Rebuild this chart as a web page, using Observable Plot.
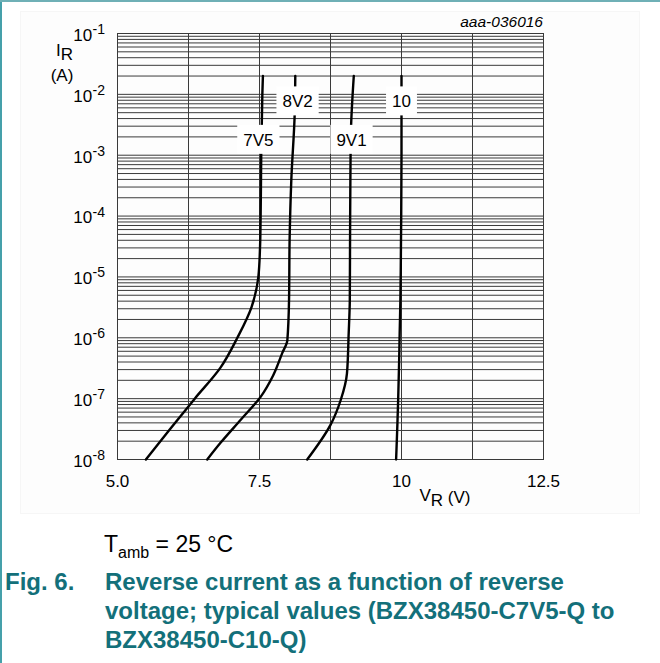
<!DOCTYPE html>
<html><head><meta charset="utf-8">
<script src="https://cdn.jsdelivr.net/npm/d3@7"></script>
<script src="https://cdn.jsdelivr.net/npm/@observablehq/plot@0.6"></script>
<style>
body{margin:0;background:#fff;}
#wrap{position:relative;width:660px;height:663px;overflow:hidden;font-family:"Liberation Sans",Arial,sans-serif;background:#fff;}
#panel{position:absolute;left:20px;top:11px;width:618px;height:501px;background:#fdfdfd;border:1px solid #f6f6f6;}
#frameL{position:absolute;left:0;top:0;width:2px;height:663px;background:#45a0aa;}
#frameT{position:absolute;left:0;top:0;width:660px;height:2px;background:#6fb0b6;}
#chart{position:absolute;left:0;top:0;}
#tamb{position:absolute;left:104px;top:533px;font-size:23px;line-height:23px;color:#000;white-space:nowrap;}
#tamb .sub{font-size:16px;position:relative;top:6px;}
.cap{position:absolute;top:567px;font-size:24px;line-height:29px;font-weight:bold;color:#13707a;white-space:nowrap;}
</style>
</head><body>
<div id="wrap">
  <div id="panel"></div>
  <div id="chart"></div>
  <div id="tamb">T<span class="sub">amb</span> = 25 °C</div>
  <div class="cap" style="left:5px;">Fig. 6.</div>
  <div class="cap" style="left:105px;">Reverse current as a function of reverse<br>voltage; typical values (BZX38450-C7V5-Q to<br>BZX38450-C10-Q)</div>
  <div id="frameL"></div>
  <div id="frameT"></div>
</div>
<script>
// ---- data ----
const seriesNames = ["7V5", "8V2", "9V1", "10"];
const v7V5 = [5.50, 5.93, 6.36, 6.81, 7.11, 7.36, 7.48, 7.51, 7.52, 7.53, 7.55, 7.56];
const i7V5 = [1e-8, 3.2e-8, 1e-7, 3.2e-7, 1e-6, 3.2e-6, 1e-5, 3.2e-5, 1e-4, 1e-3, 1e-2, 2e-2];
const v8V2 = [6.58, 6.81, 7.17, 7.52, 7.74, 7.90, 7.99, 8.02, 8.03, 8.06, 8.12, 8.13];
const i8V2 = [1e-8, 1.86e-8, 4.5e-8, 1.07e-7, 2.4e-7, 5.6e-7, 9.1e-7, 4.2e-6, 4e-5, 3.9e-4, 4.9e-3, 2e-2];
const v9V1 = [8.34, 8.75, 8.93, 9.04, 9.07, 9.09, 9.10, 9.11, 9.16];
const i9V1 = [1e-8, 3.7e-8, 9.5e-8, 2.6e-7, 1.17e-6, 4.2e-6, 4e-4, 2.5e-3, 2e-2];
const v10 = [9.905, 9.925, 9.942, 9.958, 9.968, 9.98, 9.99, 10.0, 10.0];
const i10 = [1e-8, 3.2e-8, 1e-7, 4e-7, 1.2e-6, 4e-6, 3e-5, 1e-3, 2e-2];

const labelNames = ["7V5", "8V2", "9V1", "10"];
const labelV = [7.48, 8.17, 9.12, 10.0];
const labelI = [1.75e-3, 7.5e-3, 1.75e-3, 7.5e-3];

const xTickValues = [5.0, 7.5, 10, 12.5];
const xTickLabels = ["5.0", "7.5", "10", "12.5"];
const xGridValues = [5.0, 6.25, 7.5, 8.75, 10, 11.25, 12.5];
const yExponents = [-1, -2, -3, -4, -5, -6, -7, -8];
const yMantissas = [1, 2, 3, 4, 5, 6, 7, 8, 9];

// ---- tables built from the arrays ----
const vs = [v7V5, v8V2, v9V1, v10];
const is = [i7V5, i8V2, i9V1, i10];
const rows = seriesNames.flatMap((s, k) => vs[k].map((v, j) => ({series: s, v, i: is[k][j]})));
const yGrid = [];
yExponents.forEach(e => { if (e === -1) yGrid.push(10 ** e); else yMantissas.forEach(m => yGrid.push(m * 10 ** e)); });
const labels = labelNames.map((n, k) => ({name: n, v: labelV[k], i: labelI[k]}));

const FONT = "'Liberation Sans', Arial, sans-serif";
const GRID = "#3a3a3a";

const chart = Plot.plot({
  width: 660,
  height: 520,
  marginLeft: 117,
  marginRight: 117,
  marginTop: 33,
  marginBottom: 61,
  style: {fontFamily: FONT, fontSize: "17px", background: "transparent", color: "#000"},
  x: {domain: [5, 12.5], axis: null},
  y: {type: "log", domain: [1e-8, 1e-1], axis: null},
  marks: [
    Plot.ruleY(yGrid, {y: d => d, stroke: GRID, strokeWidth: 1}),
    Plot.ruleX(xGridValues, {x: d => d, stroke: GRID, strokeWidth: 1}),
    Plot.frame({stroke: GRID, strokeWidth: 1}),
    Plot.line(rows, {x: "v", y: "i", z: "series", stroke: "#000", strokeWidth: 2.4, curve: "monotone-y"}),
    Plot.text(yExponents, {y: e => 10 ** e, frameAnchor: "left", dx: -25.3, dy: 7.4, lineAnchor: "bottom", textAnchor: "end", text: () => "10", fontSize: 17, fill: "#000"}),
    Plot.text(yExponents, {y: e => 10 ** e, frameAnchor: "left", dx: -25, dy: 0.5, lineAnchor: "bottom", textAnchor: "start", text: e => String(e), fontSize: 14, fill: "#000"}),
    Plot.text(xTickValues, {x: d => d, frameAnchor: "bottom", dy: 27.3, lineAnchor: "bottom", text: (d, k) => xTickLabels[k], fontSize: 17, fill: "#000"}),
    Plot.text(labels, {x: "v", y: "i", text: "name", fontSize: 17, fill: "#000", ariaLabel: "curve-labels"})
  ]
});
document.getElementById("chart").appendChild(chart);

// white boxes behind the curve labels
let lg = chart.querySelector('g[aria-label="curve-labels"]');
if (!lg) { const all = chart.querySelectorAll('g[aria-label="text"]'); lg = all[all.length - 1]; }
if (lg) {
  lg.querySelectorAll("text").forEach(t => {
    const b = t.getBBox();
    const r = document.createElementNS("http://www.w3.org/2000/svg", "rect");
    r.setAttribute("x", b.x - 6);
    r.setAttribute("y", b.y + b.height / 2 - 14.5 - 1);
    r.setAttribute("width", b.width + 12);
    r.setAttribute("height", 29);
    r.setAttribute("fill", "#fff");
    if (t.getAttribute("transform")) r.setAttribute("transform", t.getAttribute("transform"));
    t.parentNode.insertBefore(r, t);
  });
}

// axis titles and figure code
const svg = d3.select(chart);
const ir = svg.append("text").attr("font-family", FONT).attr("font-size", 17).attr("fill", "#000");
ir.append("tspan").attr("x", 64.5).attr("y", 56).text("I");
ir.append("tspan").attr("dy", 3.5).text("R");
svg.append("text").attr("font-family", FONT).attr("font-size", 17).attr("fill", "#000")
  .attr("x", 62).attr("y", 81).text("(A)");
const vr = svg.append("text").attr("font-family", FONT).attr("font-size", 17).attr("fill", "#000");
vr.append("tspan").attr("x", 445).attr("y", 501).text("V");
vr.append("tspan").attr("dy", 5).text("R");
vr.append("tspan").attr("dy", -3).text(" (V)");
svg.append("text").attr("font-family", FONT).attr("font-size", 15.5).attr("font-style", "italic")
  .attr("fill", "#000").attr("text-anchor", "end").attr("x", 543).attr("y", 27).text("aaa-036016");
</script>
</body></html>
